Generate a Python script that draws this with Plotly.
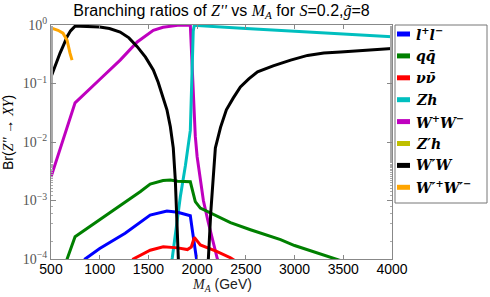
import plotly.graph_objects as go

# ---------------- data ----------------
M_ll = [820, 850, 1000, 1261, 1518, 1690, 1800, 1930, 1950, 2000, 2020]
BR_ll = [7e-5, 1e-4, 1.51e-4, 2.75e-4, 5.62e-4, 6.6e-4, 6.31e-4, 5.5e-4, 3.16e-4, 1.05e-4, 5e-5]

M_qq = [640, 665, 747, 1004, 1261, 1415, 1518, 1650, 1725, 1800, 1930, 1981, 2033, 2342, 2547, 2856, 3000, 3442, 3600]
BR_qq = [5e-5, 1e-4, 2.4e-4, 4.68e-4, 9.33e-4, 1.41e-3, 1.91e-3, 2.19e-3, 2.24e-3, 2.14e-3, 2.09e-3,
         9.55e-4, 7.41e-4, 4.17e-4, 3.16e-4, 2.14e-4, 1.7e-4, 1e-4, 8e-5]

M_nn = [1300, 1344, 1518, 1652, 1800, 1900, 1940, 1971, 2033, 2105, 2200, 2342, 2450]
BR_nn = [6.3e-5, 1e-4, 1.41e-4, 1.62e-4, 1.55e-4, 1.45e-4, 1.6e-4, 2.34e-4, 1.74e-4, 1.58e-4, 1.35e-4, 1.05e-4, 8e-5]

M_Zh = [1700, 1745, 1827, 1880, 1930, 1945, 1960, 1970, 2000, 2500, 3000, 3500, 4000]
BR_Zh = [4e-5, 1.05e-4, 1.15e-3, 4e-3, 0.0158, 0.1, 0.79, 0.98, 0.977, 0.871, 0.776, 0.692, 0.631]

M_WW = [500, 747, 1000, 1210, 1385, 1550, 1650, 1725, 1800, 1930, 1951, 1968, 1981, 2000, 2033,
        2064, 2115, 2160, 2208, 2250]
BR_WW = [2.51e-3, 0.0468, 0.117, 0.251, 0.513, 0.813, 0.912, 0.955, 0.99, 0.99, 0.17, 0.05, 0.0126,
         5.6e-3, 2.24e-3, 1e-3, 4.17e-4, 2.0e-4, 1e-4, 6e-5]

M_Zph = []
BR_Zph = []

M_WpW = [500, 550, 593, 630, 665, 700, 747, 800, 900, 1000, 1100, 1210, 1300, 1385, 1470, 1550,
         1600, 1652, 1690, 1725, 1755, 1776, 1786, 1807, 1830, None,
         2095, 2115, 2140, 2167, 2187, 2240, 2300, 2370, 2444, 2530, 2620, 2780, 2960, 3133,
         3300, 3473, 3700, 4000]
BR_WpW = [0.129, 0.224, 0.331, 0.457, 0.631, 0.794, 0.955, 0.955, 0.944, 0.923, 0.871, 0.759,
          0.603, 0.427, 0.282, 0.170, 0.105, 0.0589, 0.0355, 0.0182, 0.00794, 0.00224, 1e-3,
          1e-4, 1e-5, None,
          1e-5, 1e-4, 6.3e-4, 2.24e-3, 7.9e-3, 0.0178, 0.0355, 0.0562, 0.0871, 0.120, 0.158,
          0.2, 0.251, 0.302, 0.331, 0.347, 0.372, 0.398]

M_WpWp = [500, 572, 623, 665, 695, 716]
BR_WpWp = [0.891, 0.813, 0.724, 0.55, 0.33, 0.251]

labels = [
    "<i>l</i><sup>+</sup><i>l</i><sup>−</sup>",
    "<i>q</i><i>q\u0304</i>",
    "<i>ν</i><i>ν\u0304</i>",
    "<i>Zh</i>",
    "<i>W</i><sup>+</sup><i>W</i><sup>−</sup>",
    "<i>Z′h</i>",
    "<i>W′W</i>",
    "<i>W′</i><sup>+</sup><i>W′</i><sup>−</sup>",
]
colors = ["#0000ff", "#008000", "#ff0000", "#00bfbf", "#bf00bf", "#bfbf00", "#000000", "#ffa500"]
xs = [M_ll, M_qq, M_nn, M_Zh, M_WW, M_Zph, M_WpW, M_WpWp]
ys = [BR_ll, BR_qq, BR_nn, BR_Zh, BR_WW, BR_Zph, BR_WpW, BR_WpWp]

x_ticks = [500, 1000, 1500, 2000, 2500, 3000, 3500, 4000]
y_ticks = [1e-4, 1e-3, 1e-2, 1e-1, 1]
y_ticktext = ["10<sup>−4</sup>", "10<sup>−3</sup>", "10<sup>−2</sup>", "10<sup>−1</sup>", "10<sup>0</sup>"]

# ---------------- figure ----------------
W, H = 490, 297
ML, MR, MT, MB = 51, 98, 25, 38
PW, PH = W - ML - MR, H - MT - MB

SERIF = "Liberation Serif"
LSERIF = "DejaVu Serif"
SANS = "Liberation Sans, Arial, sans-serif"

fig = go.Figure()
draw_order = [4, 3, 1, 0, 2, 5, 6, 7]
for i in draw_order:
    fig.add_trace(go.Scatter(x=xs[i], y=ys[i], mode="lines", name=labels[i],
                             line=dict(color=colors[i], width=3),
                             showlegend=False, connectgaps=False))

def px_x(p):
    return (p - ML) / PW

def px_y(p):
    return (MT + PH - p) / PH

shapes = []
annotations = []
# legend box
shapes.append(dict(type="rect", xref="paper", yref="paper",
                   x0=px_x(395), x1=px_x(487), y0=px_y(203), y1=px_y(25),
                   line=dict(color="#777", width=1), fillcolor="white", layer="above"))
for i, (lab, col) in enumerate(zip(labels, colors)):
    yy = 34 + 21.9 * i
    shapes.append(dict(type="line", xref="paper", yref="paper",
                       x0=px_x(397), x1=px_x(410), y0=px_y(yy), y1=px_y(yy),
                       line=dict(color=col, width=5), layer="above"))
    annotations.append(dict(xref="paper", yref="paper", x=px_x(414), y=px_y(yy),
                            xanchor="left", yanchor="middle", showarrow=False,
                            text="<b>" + lab + "</b>",
                            font=dict(family=LSERIF, size=14, color="black")))

# axis titles
annotations.append(dict(xref="paper", yref="paper", x=px_x(221.5), y=px_y(285),
                        xanchor="center", yanchor="middle", showarrow=False,
                        text="<span style='font-family:Liberation Serif'><i>M<sub>A</sub></i></span> (GeV)",
                        font=dict(family=SANS, size=14, color="#222")))
annotations.append(dict(xref="paper", yref="paper", x=px_x(8), y=px_y(133),
                        xanchor="center", yanchor="middle", showarrow=False, textangle=-90,
                        text="Br(<span style='font-family:Liberation Serif'><i>Z''</i></span> → "
                             "<span style='font-family:Liberation Serif'><i>XY</i></span>)",
                        font=dict(family=SANS, size=14, color="black")))

fig.update_layout(
    width=W, height=H,
    margin=dict(l=ML, r=MR, t=MT, b=MB),
    paper_bgcolor="white", plot_bgcolor="white",
    showlegend=False,
    title=dict(
        text="Branching ratios of <span style='font-family:Liberation Serif'><i>Z''</i></span> vs "
             "<span style='font-family:Liberation Serif'><i>M<sub>A</sub></i></span> for "
             "<span style='font-family:Liberation Serif'><i>S</i></span>=0.2,"
             "<span style='font-family:Liberation Serif'><i>g̃</i></span>=8",
        x=(ML + PW / 2) / W, xanchor="center", y=1 - 10 / H, yanchor="middle",
        font=dict(family=SANS, size=16, color="black")),
    xaxis=dict(range=[500, 4000], tickvals=x_ticks, ticks="inside", ticklen=4,
               showline=True, linecolor="#888", linewidth=1, mirror="ticks",
               tickcolor="#888", showgrid=False, zeroline=False, ticklabelstandoff=-3,
               tickfont=dict(family=SANS, size=14, color="black")),
    yaxis=dict(type="log", range=[-4, 0], tickvals=y_ticks, ticktext=y_ticktext,
               ticks="inside", ticklen=5, tickcolor="#888",
               showline=True, linecolor="#888", linewidth=1, mirror="ticks",
               showgrid=False, zeroline=False,
               minor=dict(ticks="inside", ticklen=2, tickcolor="#aaa", showgrid=False),
               tickfont=dict(family=SERIF, size=14, color="#555")),
    shapes=shapes, annotations=annotations,
)

fig.write_html("out.html", config={"displayModeBar": False},
               post_script="document.body.style.margin='0';document.body.style.padding='0';")
